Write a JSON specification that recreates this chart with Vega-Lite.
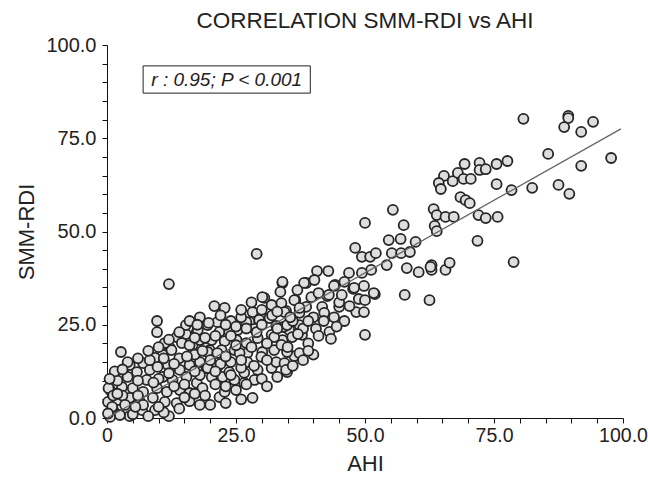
{
"$schema": "https://vega.github.io/schema/vega-lite/v6.json",
"width": 516, "height": 373,
"autosize": {"type": "none"},
"padding": {"left": 107, "top": 45, "right": 25, "bottom": 61},
"background": "white",
"config": {"view": {"stroke": null}, "font": "Liberation Sans"},
"title": {"text": "CORRELATION SMM-RDI vs AHI", "fontSize": 22.5, "fontWeight": "normal", "color": "#222", "font": "Liberation Sans", "offset": 3},
"encoding": {
 "x": {"field": "a", "type": "quantitative", "scale": {"domain": [0, 100], "nice": false},
  "axis": {"title": "AHI", "values": [0,5,10,15,20,25,30,35,40,45,50,55,60,65,70,75,80,85,90,95,100],
   "labelExpr": "datum.value % 25 == 0 ? (datum.value == 0 ? '0' : format(datum.value, '.1f')) : ''",
   "grid": false, "tickSize": 5, "tickColor": "#111", "domainColor": "#111", "labelFontSize": 19.5, "titleFontSize": 22,
   "titleFontWeight": "normal", "labelColor": "#222", "titleColor": "#222", "labelFlush": false, "labelOverlap": false, "labelPadding": 3, "titlePadding": 9}},
 "y": {"field": "s", "type": "quantitative", "scale": {"domain": [0, 100], "nice": false},
  "axis": {"title": "SMM-RDI", "values": [0,5,10,15,20,25,30,35,40,45,50,55,60,65,70,75,80,85,90,95,100],
   "labelExpr": "datum.value % 25 == 0 ? format(datum.value, '.1f') : ''",
   "grid": false, "tickSize": 5, "tickColor": "#111", "domainColor": "#111", "labelFontSize": 20, "titleFontSize": 22,
   "titleFontWeight": "normal", "labelColor": "#222", "titleColor": "#222", "labelFlush": false, "labelOverlap": false, "labelPadding": 6, "titlePadding": 7}}
},
"layer": [
 {"data": {"values": [{"a": 7.0, "a2": 39.4, "s": 87.1, "s2": 94.4}]},
  "mark": {"type": "rect", "fill": "white", "stroke": "#222", "strokeWidth": 1},
  "encoding": {"x2": {"field": "a2"}, "y2": {"field": "s2"}}},
 {"data": {"values": [{"a": 23.2, "s": 90.7, "label": "r : 0.95; P < 0.001"}]},
  "mark": {"type": "text", "fontSize": 19, "fontStyle": "italic", "align": "center", "baseline": "middle", "color": "#222"},
  "encoding": {"text": {"field": "label"}}},
 {"data": {"values": [
{"a":80.7,"s":80.2},{"a":89.4,"s":81.0},{"a":89.4,"s":80.4},{"a":88.6,"s":78.0},{"a":91.9,"s":76.7},{"a":94.2,"s":79.4},{"a":85.5,"s":70.8},{"a":97.7,"s":69.7},{"a":91.9,"s":67.6},{"a":82.4,"s":61.7},{"a":87.5,"s":62.5},{"a":89.6,"s":60.1},{"a":78.4,"s":61.1},
{"a":69.3,"s":68.1},{"a":72.2,"s":68.4},{"a":72.2,"s":66.5},{"a":73.4,"s":66.7},{"a":75.5,"s":68.1},{"a":77.6,"s":68.9},{"a":65.3,"s":64.9},{"a":64.3,"s":63.0},{"a":64.7,"s":61.4},{"a":67.0,"s":63.5},{"a":68.0,"s":65.7},{"a":69.1,"s":64.1},{"a":70.5,"s":64.1},{"a":75.5,"s":62.7},{"a":68.5,"s":59.2},{"a":69.5,"s":58.4},{"a":70.3,"s":57.6},{"a":63.3,"s":56.0},{"a":63.9,"s":54.4},{"a":65.6,"s":53.9},{"a":67.2,"s":53.9},{"a":72.0,"s":54.4},{"a":73.4,"s":53.6},{"a":75.7,"s":53.9},{"a":63.5,"s":51.5},{"a":63.9,"s":50.1},{"a":71.8,"s":47.5},{"a":78.8,"s":41.8},{"a":62.9,"s":41.0},{"a":62.9,"s":39.7},{"a":65.6,"s":39.7},{"a":66.4,"s":41.6},{"a":62.5,"s":31.6},
{"a":55.4,"s":55.8},{"a":50.0,"s":52.3},{"a":57.5,"s":51.7},{"a":48.1,"s":45.6},{"a":49.4,"s":43.2},{"a":51.0,"s":43.2},{"a":52.1,"s":44.2},{"a":54.6,"s":47.7},{"a":56.9,"s":48.0},{"a":55.2,"s":44.2},{"a":57.0,"s":44.2},{"a":58.7,"s":44.5},{"a":59.8,"s":47.2},{"a":54.2,"s":41.0},{"a":58.1,"s":40.2},{"a":60.4,"s":39.1},{"a":62.7,"s":40.5},{"a":57.7,"s":33.0},{"a":51.2,"s":39.7},{"a":49.4,"s":38.9},{"a":46.9,"s":38.9},{"a":47.7,"s":34.6},{"a":48.8,"s":31.9},{"a":51.9,"s":33.2},{"a":50.0,"s":31.6},{"a":48.3,"s":28.4},{"a":49.8,"s":28.4},{"a":50.0,"s":22.3},{"a":45.0,"s":29.8},{"a":42.9,"s":39.4},{"a":40.7,"s":39.4},{"a":44.2,"s":35.7},{"a":38.6,"s":36.2},{"a":34.0,"s":36.2},{"a":36.5,"s":31.6},{"a":34.7,"s":28.7},{"a":38.6,"s":29.8},{"a":41.7,"s":29.8},{"a":42.1,"s":28.2},{"a":40.5,"s":23.9},{"a":43.1,"s":23.1},{"a":43.4,"s":21.2},{"a":37.8,"s":22.3},{"a":35.3,"s":23.6},{"a":36.3,"s":16.6},{"a":34.9,"s":12.3},{"a":39.6,"s":32.4},{"a":37.3,"s":28.2},{"a":34.2,"s":24.4},{"a":34.2,"s":19.6},{"a":40.2,"s":37.0},{"a":44.0,"s":35.4},{"a":47.9,"s":34.9},{"a":49.8,"s":35.4},{"a":51.7,"s":33.5},{"a":42.7,"s":32.7},
{"a":29.0,"s":44.0},{"a":12.0,"s":35.9},{"a":9.7,"s":26.0},{"a":9.7,"s":23.0},{"a":2.7,"s":17.7},{"a":12.0,"s":0.5},
{"a":13.5,"s":21.7},{"a":15.3,"s":22.5},{"a":17.4,"s":23.1},{"a":14.5,"s":20.1},{"a":16.6,"s":19.6},{"a":18.0,"s":20.9},{"a":19.3,"s":18.8},{"a":12.2,"s":18.8},{"a":10.8,"s":16.9},{"a":9.3,"s":16.1},{"a":7.0,"s":14.7},{"a":4.4,"s":14.2},{"a":3.1,"s":12.1},{"a":5.8,"s":12.3},{"a":8.3,"s":12.9},{"a":9.8,"s":13.7},{"a":11.8,"s":14.2},{"a":14.1,"s":12.9},{"a":16.0,"s":14.2},{"a":18.0,"s":15.0},{"a":19.3,"s":13.4},{"a":7.7,"s":10.2},{"a":10.8,"s":11.0},{"a":12.7,"s":10.2},{"a":15.4,"s":11.0},{"a":17.4,"s":9.4},{"a":18.5,"s":8.0},{"a":0.6,"s":7.5},{"a":2.9,"s":8.3},{"a":5.0,"s":8.0},{"a":7.0,"s":7.0},{"a":9.7,"s":8.0},{"a":11.6,"s":7.0},{"a":14.1,"s":7.5},{"a":16.0,"s":6.7},{"a":0.2,"s":4.3},{"a":2.1,"s":4.8},{"a":4.4,"s":5.4},{"a":6.4,"s":4.3},{"a":8.9,"s":5.4},{"a":11.2,"s":4.3},{"a":13.5,"s":4.0},{"a":1.2,"s":2.1},{"a":3.9,"s":2.1},{"a":6.8,"s":2.1},{"a":9.3,"s":2.1},{"a":0.6,"s":0.3},{"a":4.4,"s":0.5},{"a":2.5,"s":0.8},
{"a":34.0,"s":36.5},{"a":33.6,"s":33.8},{"a":38.2,"s":36.2},{"a":20.8,"s":30.0},{"a":22.8,"s":29.5},{"a":30.5,"s":32.2},{"a":28.2,"s":28.4},{"a":31.9,"s":30.3},{"a":33.8,"s":30.8},{"a":36.3,"s":31.6},{"a":34.4,"s":28.4},{"a":37.3,"s":29.5},{"a":21.4,"s":25.7},{"a":19.5,"s":24.9},{"a":27.6,"s":25.7},{"a":29.5,"s":26.3},{"a":31.5,"s":26.8},{"a":32.8,"s":24.7},{"a":34.9,"s":24.9},{"a":37.3,"s":24.9},{"a":21.8,"s":23.1},{"a":23.7,"s":23.1},{"a":25.3,"s":23.6},{"a":28.6,"s":23.9},{"a":29.2,"s":21.4},{"a":31.9,"s":22.3},{"a":34.0,"s":20.9},{"a":35.9,"s":21.7},{"a":20.3,"s":20.9},{"a":22.8,"s":20.6},{"a":25.1,"s":20.9},{"a":27.0,"s":20.1},{"a":19.9,"s":18.2},{"a":22.2,"s":18.2},{"a":24.7,"s":18.2},{"a":27.2,"s":17.4},{"a":30.1,"s":17.7},{"a":32.4,"s":18.2},{"a":34.9,"s":17.7},{"a":37.3,"s":17.4},
{"a":28.2,"s":5.4},{"a":21.8,"s":5.6},{"a":22.8,"s":7.0},{"a":28.6,"s":10.2},{"a":26.6,"s":9.4},{"a":24.7,"s":10.2},{"a":22.4,"s":11.0},{"a":20.3,"s":11.0},{"a":19.5,"s":13.4},{"a":21.4,"s":13.7},{"a":23.7,"s":12.3},{"a":26.6,"s":12.1},{"a":29.2,"s":12.9},{"a":31.9,"s":13.4},{"a":32.8,"s":15.0},{"a":34.4,"s":14.7},{"a":27.2,"s":15.0},{"a":29.9,"s":16.4},{"a":25.7,"s":17.4},{"a":19.5,"s":17.7},{"a":21.4,"s":17.4},{"a":33.8,"s":19.6},{"a":32.4,"s":21.7},
{"a":15.3,"s":24.9},{"a":19.7,"s":25.5},{"a":17.6,"s":23.6},{"a":12.5,"s":18.2},{"a":11.2,"s":20.1},{"a":8.3,"s":15.5},{"a":30.1,"s":32.4},{"a":36.9,"s":34.3},{"a":27.0,"s":25.7},{"a":34.7,"s":12.9},
{"a":14,"s":16},{"a":17,"s":17},{"a":20,"s":15.5},{"a":22,"s":14.5},{"a":24,"s":15},{"a":26,"s":13.5},{"a":18,"s":11.5},{"a":21,"s":9},{"a":23,"s":8.5},{"a":25,"s":7.5},{"a":19,"s":6},{"a":16,"s":4.5},{"a":14,"s":2.5},{"a":11,"s":1.5},{"a":8,"s":0.5},{"a":6,"s":10},{"a":4,"s":11},{"a":3,"s":6},{"a":1,"s":3},{"a":2,"s":10},{"a":1.5,"s":12.5},{"a":0.3,"s":8},{"a":5,"s":1},{"a":7,"s":3.5},{"a":10,"s":10.5},{"a":13,"s":8.5},{"a":15,"s":9},{"a":17,"s":6.5},{"a":20,"s":3.5},{"a":23,"s":4},{"a":26,"s":5},{"a":27,"s":9},{"a":30,"s":10.5},{"a":31,"s":8.5},{"a":33,"s":11},{"a":36,"s":14},{"a":38,"s":15.5},{"a":40,"s":17},{"a":39,"s":20},{"a":41,"s":22},{"a":42,"s":26},{"a":44,"s":27},{"a":45,"s":31},{"a":46,"s":26},{"a":47,"s":30},{"a":43,"s":33},{"a":40,"s":27},{"a":38,"s":24},{"a":36,"s":26},{"a":32,"s":27.5},{"a":30,"s":29},{"a":28,"s":31},{"a":26,"s":27},{"a":24,"s":26},{"a":22,"s":27.5},{"a":18,"s":27},{"a":16,"s":26},{"a":14,"s":23},{"a":12,"s":21},{"a":10,"s":19},{"a":8,"s":18},{"a":6,"s":16},{"a":4,"s":15},{"a":3,"s":13},{"a":11,"s":16},{"a":16,"s":19.5},{"a":25,"s":19.5},{"a":28,"s":19},{"a":31,"s":20},{"a":35,"s":19},{"a":37,"s":22.5},{"a":33,"s":24},{"a":29,"s":23},{"a":27,"s":24},{"a":24,"s":22},{"a":21,"s":22},{"a":19,"s":21.5},{"a":17,"s":21.5},
{"a":0.5,"s":10.5},{"a":0.2,"s":1.2},{"a":1.2,"s":6},{"a":3.5,"s":3.5},
{"a":13,"s":14.5},{"a":15.5,"s":16.5},{"a":18.5,"s":18},{"a":23,"s":16.5},{"a":26,"s":15.5},{"a":28.5,"s":14},{"a":24,"s":11.5},{"a":21,"s":12.5},{"a":17,"s":12.5},{"a":12,"s":12},{"a":9,"s":9.5},{"a":6,"s":6},{"a":2,"s":6.5},{"a":5.5,"s":3},{"a":10,"s":3},{"a":15,"s":5.5},{"a":18,"s":3.5},{"a":25,"s":24.5},{"a":23,"s":25},{"a":26,"s":29},{"a":30,"s":25},{"a":33,"s":28.5},{"a":35.5,"s":27},{"a":39,"s":26},{"a":41,"s":33.5},{"a":45.5,"s":33},{"a":46,"s":36.5},{"a":44.5,"s":24.5},{"a":39,"s":18},{"a":31,"s":15.5},{"a":17.5,"s":25}
 ]},
  "mark": {"type": "point", "shape": "circle", "filled": false, "fill": "#dedede", "fillOpacity": 1, "stroke": "#262626", "strokeWidth": 1.8, "size": 100, "opacity": 1}},
 {"data": {"values": [{"a": 0, "s": 0}, {"a": 99.6, "s": 77.5}]},
  "mark": {"type": "line", "color": "#666", "strokeWidth": 1.3}}
]
}
